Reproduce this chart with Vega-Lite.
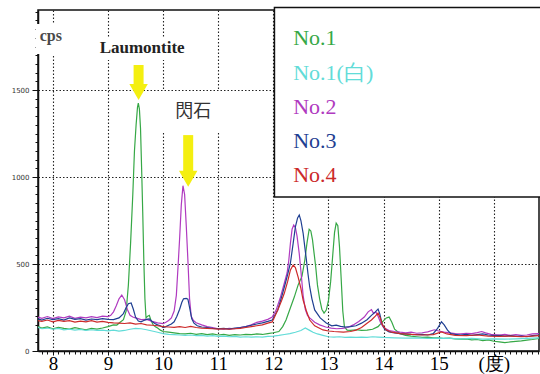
{
  "$schema": "https://vega.github.io/schema/vega-lite/v6.json",
  "width": 501,
  "height": 341,
  "autosize": "none",
  "padding": {"left": 38, "top": 10, "right": 1, "bottom": 23},
  "background": "white",
  "config": {
    "view": {"stroke": "#111", "strokeWidth": 1.5},
    "axis": {"domainColor": "#111", "domainWidth": 1.5, "tickColor": "#111"}
  },
  "datasets": {
    "spectra": [
      {"series": "No.1", "deg": 7.73, "cps": 140}, {"series": "No.1", "deg": 7.8, "cps": 132}, {"series": "No.1", "deg": 7.9, "cps": 138}, {"series": "No.1", "deg": 8.0, "cps": 128}, {"series": "No.1", "deg": 8.1, "cps": 136}, {"series": "No.1", "deg": 8.2, "cps": 130}, {"series": "No.1", "deg": 8.3, "cps": 126}, {"series": "No.1", "deg": 8.4, "cps": 134}, {"series": "No.1", "deg": 8.5, "cps": 128}, {"series": "No.1", "deg": 8.6, "cps": 122}, {"series": "No.1", "deg": 8.7, "cps": 130}, {"series": "No.1", "deg": 8.8, "cps": 126}, {"series": "No.1", "deg": 8.9, "cps": 132}, {"series": "No.1", "deg": 9.0, "cps": 140}, {"series": "No.1", "deg": 9.1, "cps": 150}, {"series": "No.1", "deg": 9.16, "cps": 149}, {"series": "No.1", "deg": 9.22, "cps": 165}, {"series": "No.1", "deg": 9.28, "cps": 180}, {"series": "No.1", "deg": 9.33, "cps": 230}, {"series": "No.1", "deg": 9.37, "cps": 380}, {"series": "No.1", "deg": 9.41, "cps": 620}, {"series": "No.1", "deg": 9.45, "cps": 900}, {"series": "No.1", "deg": 9.48, "cps": 1150}, {"series": "No.1", "deg": 9.51, "cps": 1300}, {"series": "No.1", "deg": 9.535, "cps": 1400}, {"series": "No.1", "deg": 9.55, "cps": 1425}, {"series": "No.1", "deg": 9.57, "cps": 1390}, {"series": "No.1", "deg": 9.59, "cps": 1280}, {"series": "No.1", "deg": 9.61, "cps": 1050}, {"series": "No.1", "deg": 9.63, "cps": 800}, {"series": "No.1", "deg": 9.65, "cps": 520}, {"series": "No.1", "deg": 9.67, "cps": 300}, {"series": "No.1", "deg": 9.69, "cps": 190}, {"series": "No.1", "deg": 9.72, "cps": 200}, {"series": "No.1", "deg": 9.75, "cps": 205}, {"series": "No.1", "deg": 9.78, "cps": 175}, {"series": "No.1", "deg": 9.82, "cps": 150}, {"series": "No.1", "deg": 9.86, "cps": 140}, {"series": "No.1", "deg": 9.9, "cps": 132}, {"series": "No.1", "deg": 9.95, "cps": 120}, {"series": "No.1", "deg": 10.0, "cps": 112}, {"series": "No.1", "deg": 10.1, "cps": 108}, {"series": "No.1", "deg": 10.2, "cps": 104}, {"series": "No.1", "deg": 10.3, "cps": 100}, {"series": "No.1", "deg": 10.4, "cps": 98}, {"series": "No.1", "deg": 10.5, "cps": 102}, {"series": "No.1", "deg": 10.6, "cps": 96}, {"series": "No.1", "deg": 10.7, "cps": 100}, {"series": "No.1", "deg": 10.8, "cps": 94}, {"series": "No.1", "deg": 10.9, "cps": 98}, {"series": "No.1", "deg": 11.0, "cps": 92}, {"series": "No.1", "deg": 11.1, "cps": 96}, {"series": "No.1", "deg": 11.2, "cps": 90}, {"series": "No.1", "deg": 11.3, "cps": 94}, {"series": "No.1", "deg": 11.4, "cps": 92}, {"series": "No.1", "deg": 11.5, "cps": 96}, {"series": "No.1", "deg": 11.6, "cps": 94}, {"series": "No.1", "deg": 11.7, "cps": 98}, {"series": "No.1", "deg": 11.8, "cps": 95}, {"series": "No.1", "deg": 11.9, "cps": 100}, {"series": "No.1", "deg": 12.0, "cps": 105}, {"series": "No.1", "deg": 12.1, "cps": 112}, {"series": "No.1", "deg": 12.17, "cps": 140}, {"series": "No.1", "deg": 12.23, "cps": 178}, {"series": "No.1", "deg": 12.3, "cps": 240}, {"series": "No.1", "deg": 12.38, "cps": 310}, {"series": "No.1", "deg": 12.45, "cps": 380}, {"series": "No.1", "deg": 12.52, "cps": 430}, {"series": "No.1", "deg": 12.57, "cps": 520}, {"series": "No.1", "deg": 12.61, "cps": 620}, {"series": "No.1", "deg": 12.65, "cps": 700}, {"series": "No.1", "deg": 12.68, "cps": 690}, {"series": "No.1", "deg": 12.71, "cps": 640}, {"series": "No.1", "deg": 12.74, "cps": 560}, {"series": "No.1", "deg": 12.77, "cps": 480}, {"series": "No.1", "deg": 12.8, "cps": 380}, {"series": "No.1", "deg": 12.84, "cps": 300}, {"series": "No.1", "deg": 12.88, "cps": 240}, {"series": "No.1", "deg": 12.92, "cps": 218}, {"series": "No.1", "deg": 12.96, "cps": 235}, {"series": "No.1", "deg": 13.0, "cps": 290}, {"series": "No.1", "deg": 13.04, "cps": 400}, {"series": "No.1", "deg": 13.08, "cps": 560}, {"series": "No.1", "deg": 13.11, "cps": 680}, {"series": "No.1", "deg": 13.14, "cps": 735}, {"series": "No.1", "deg": 13.17, "cps": 720}, {"series": "No.1", "deg": 13.2, "cps": 600}, {"series": "No.1", "deg": 13.23, "cps": 420}, {"series": "No.1", "deg": 13.26, "cps": 230}, {"series": "No.1", "deg": 13.29, "cps": 138}, {"series": "No.1", "deg": 13.34, "cps": 120}, {"series": "No.1", "deg": 13.4, "cps": 118}, {"series": "No.1", "deg": 13.5, "cps": 122}, {"series": "No.1", "deg": 13.6, "cps": 118}, {"series": "No.1", "deg": 13.7, "cps": 120}, {"series": "No.1", "deg": 13.8, "cps": 125}, {"series": "No.1", "deg": 13.9, "cps": 140}, {"series": "No.1", "deg": 13.97, "cps": 165}, {"series": "No.1", "deg": 14.05, "cps": 190}, {"series": "No.1", "deg": 14.1, "cps": 195}, {"series": "No.1", "deg": 14.15, "cps": 165}, {"series": "No.1", "deg": 14.2, "cps": 125}, {"series": "No.1", "deg": 14.3, "cps": 100}, {"series": "No.1", "deg": 14.4, "cps": 90}, {"series": "No.1", "deg": 14.5, "cps": 85}, {"series": "No.1", "deg": 14.6, "cps": 82}, {"series": "No.1", "deg": 14.7, "cps": 78}, {"series": "No.1", "deg": 14.8, "cps": 80}, {"series": "No.1", "deg": 14.9, "cps": 75}, {"series": "No.1", "deg": 15.0, "cps": 76}, {"series": "No.1", "deg": 15.1, "cps": 72}, {"series": "No.1", "deg": 15.2, "cps": 74}, {"series": "No.1", "deg": 15.3, "cps": 70}, {"series": "No.1", "deg": 15.4, "cps": 68}, {"series": "No.1", "deg": 15.5, "cps": 70}, {"series": "No.1", "deg": 15.6, "cps": 64}, {"series": "No.1", "deg": 15.7, "cps": 66}, {"series": "No.1", "deg": 15.8, "cps": 60}, {"series": "No.1", "deg": 15.9, "cps": 64}, {"series": "No.1", "deg": 16.0, "cps": 56}, {"series": "No.1", "deg": 16.1, "cps": 52}, {"series": "No.1", "deg": 16.2, "cps": 48}, {"series": "No.1", "deg": 16.3, "cps": 52}, {"series": "No.1", "deg": 16.4, "cps": 55}, {"series": "No.1", "deg": 16.5, "cps": 58}, {"series": "No.1", "deg": 16.6, "cps": 62}, {"series": "No.1", "deg": 16.7, "cps": 66}, {"series": "No.1", "deg": 16.82, "cps": 72},

      {"series": "No.1(白)", "deg": 7.73, "cps": 135}, {"series": "No.1(白)", "deg": 7.8, "cps": 128}, {"series": "No.1(白)", "deg": 7.9, "cps": 132}, {"series": "No.1(白)", "deg": 8.0, "cps": 125}, {"series": "No.1(白)", "deg": 8.1, "cps": 130}, {"series": "No.1(白)", "deg": 8.2, "cps": 122}, {"series": "No.1(白)", "deg": 8.3, "cps": 126}, {"series": "No.1(白)", "deg": 8.4, "cps": 120}, {"series": "No.1(白)", "deg": 8.5, "cps": 124}, {"series": "No.1(白)", "deg": 8.6, "cps": 118}, {"series": "No.1(白)", "deg": 8.7, "cps": 122}, {"series": "No.1(白)", "deg": 8.8, "cps": 118}, {"series": "No.1(白)", "deg": 8.9, "cps": 120}, {"series": "No.1(白)", "deg": 9.0, "cps": 116}, {"series": "No.1(白)", "deg": 9.1, "cps": 120}, {"series": "No.1(白)", "deg": 9.2, "cps": 114}, {"series": "No.1(白)", "deg": 9.3, "cps": 118}, {"series": "No.1(白)", "deg": 9.4, "cps": 125}, {"series": "No.1(白)", "deg": 9.5, "cps": 130}, {"series": "No.1(白)", "deg": 9.6, "cps": 128}, {"series": "No.1(白)", "deg": 9.7, "cps": 122}, {"series": "No.1(白)", "deg": 9.8, "cps": 115}, {"series": "No.1(白)", "deg": 9.9, "cps": 108}, {"series": "No.1(白)", "deg": 10.0, "cps": 100}, {"series": "No.1(白)", "deg": 10.1, "cps": 96}, {"series": "No.1(白)", "deg": 10.2, "cps": 94}, {"series": "No.1(白)", "deg": 10.3, "cps": 92}, {"series": "No.1(白)", "deg": 10.4, "cps": 90}, {"series": "No.1(白)", "deg": 10.5, "cps": 92}, {"series": "No.1(白)", "deg": 10.6, "cps": 88}, {"series": "No.1(白)", "deg": 10.7, "cps": 90}, {"series": "No.1(白)", "deg": 10.8, "cps": 86}, {"series": "No.1(白)", "deg": 10.9, "cps": 88}, {"series": "No.1(白)", "deg": 11.0, "cps": 84}, {"series": "No.1(白)", "deg": 11.1, "cps": 86}, {"series": "No.1(白)", "deg": 11.2, "cps": 82}, {"series": "No.1(白)", "deg": 11.3, "cps": 84}, {"series": "No.1(白)", "deg": 11.4, "cps": 80}, {"series": "No.1(白)", "deg": 11.5, "cps": 82}, {"series": "No.1(白)", "deg": 11.6, "cps": 80}, {"series": "No.1(白)", "deg": 11.7, "cps": 82}, {"series": "No.1(白)", "deg": 11.8, "cps": 80}, {"series": "No.1(白)", "deg": 11.9, "cps": 84}, {"series": "No.1(白)", "deg": 12.0, "cps": 86}, {"series": "No.1(白)", "deg": 12.1, "cps": 90}, {"series": "No.1(白)", "deg": 12.2, "cps": 95}, {"series": "No.1(白)", "deg": 12.3, "cps": 100}, {"series": "No.1(白)", "deg": 12.4, "cps": 108}, {"series": "No.1(白)", "deg": 12.5, "cps": 118}, {"series": "No.1(白)", "deg": 12.58, "cps": 132}, {"series": "No.1(白)", "deg": 12.65, "cps": 120}, {"series": "No.1(白)", "deg": 12.72, "cps": 108}, {"series": "No.1(白)", "deg": 12.8, "cps": 98}, {"series": "No.1(白)", "deg": 12.9, "cps": 90}, {"series": "No.1(白)", "deg": 13.0, "cps": 82}, {"series": "No.1(白)", "deg": 13.1, "cps": 80}, {"series": "No.1(白)", "deg": 13.2, "cps": 82}, {"series": "No.1(白)", "deg": 13.3, "cps": 78}, {"series": "No.1(白)", "deg": 13.4, "cps": 80}, {"series": "No.1(白)", "deg": 13.5, "cps": 78}, {"series": "No.1(白)", "deg": 13.6, "cps": 80}, {"series": "No.1(白)", "deg": 13.7, "cps": 78}, {"series": "No.1(白)", "deg": 13.8, "cps": 82}, {"series": "No.1(白)", "deg": 13.9, "cps": 80}, {"series": "No.1(白)", "deg": 14.0, "cps": 78}, {"series": "No.1(白)", "deg": 14.2, "cps": 76}, {"series": "No.1(白)", "deg": 14.4, "cps": 74}, {"series": "No.1(白)", "deg": 14.6, "cps": 76}, {"series": "No.1(白)", "deg": 14.8, "cps": 72}, {"series": "No.1(白)", "deg": 15.0, "cps": 74}, {"series": "No.1(白)", "deg": 15.2, "cps": 72}, {"series": "No.1(白)", "deg": 15.4, "cps": 70}, {"series": "No.1(白)", "deg": 15.6, "cps": 72}, {"series": "No.1(白)", "deg": 15.8, "cps": 68}, {"series": "No.1(白)", "deg": 16.0, "cps": 70}, {"series": "No.1(白)", "deg": 16.2, "cps": 68}, {"series": "No.1(白)", "deg": 16.4, "cps": 70}, {"series": "No.1(白)", "deg": 16.6, "cps": 72}, {"series": "No.1(白)", "deg": 16.82, "cps": 75},

      {"series": "No.2", "deg": 7.73, "cps": 195}, {"series": "No.2", "deg": 7.8, "cps": 188}, {"series": "No.2", "deg": 7.9, "cps": 198}, {"series": "No.2", "deg": 8.0, "cps": 186}, {"series": "No.2", "deg": 8.1, "cps": 196}, {"series": "No.2", "deg": 8.2, "cps": 190}, {"series": "No.2", "deg": 8.3, "cps": 200}, {"series": "No.2", "deg": 8.4, "cps": 188}, {"series": "No.2", "deg": 8.5, "cps": 195}, {"series": "No.2", "deg": 8.6, "cps": 190}, {"series": "No.2", "deg": 8.7, "cps": 198}, {"series": "No.2", "deg": 8.8, "cps": 192}, {"series": "No.2", "deg": 8.9, "cps": 200}, {"series": "No.2", "deg": 9.0, "cps": 198}, {"series": "No.2", "deg": 9.05, "cps": 205}, {"series": "No.2", "deg": 9.1, "cps": 225}, {"series": "No.2", "deg": 9.15, "cps": 260}, {"series": "No.2", "deg": 9.2, "cps": 300}, {"series": "No.2", "deg": 9.25, "cps": 322}, {"series": "No.2", "deg": 9.3, "cps": 295}, {"series": "No.2", "deg": 9.35, "cps": 240}, {"series": "No.2", "deg": 9.4, "cps": 205}, {"series": "No.2", "deg": 9.45, "cps": 195}, {"series": "No.2", "deg": 9.5, "cps": 190}, {"series": "No.2", "deg": 9.6, "cps": 180}, {"series": "No.2", "deg": 9.7, "cps": 182}, {"series": "No.2", "deg": 9.8, "cps": 170}, {"series": "No.2", "deg": 9.9, "cps": 162}, {"series": "No.2", "deg": 10.0, "cps": 158}, {"series": "No.2", "deg": 10.05, "cps": 165}, {"series": "No.2", "deg": 10.1, "cps": 175}, {"series": "No.2", "deg": 10.15, "cps": 190}, {"series": "No.2", "deg": 10.2, "cps": 230}, {"series": "No.2", "deg": 10.24, "cps": 320}, {"series": "No.2", "deg": 10.27, "cps": 480}, {"series": "No.2", "deg": 10.3, "cps": 650}, {"series": "No.2", "deg": 10.33, "cps": 840}, {"series": "No.2", "deg": 10.36, "cps": 950}, {"series": "No.2", "deg": 10.39, "cps": 900}, {"series": "No.2", "deg": 10.42, "cps": 720}, {"series": "No.2", "deg": 10.45, "cps": 520}, {"series": "No.2", "deg": 10.48, "cps": 300}, {"series": "No.2", "deg": 10.51, "cps": 200}, {"series": "No.2", "deg": 10.55, "cps": 175}, {"series": "No.2", "deg": 10.6, "cps": 162}, {"series": "No.2", "deg": 10.7, "cps": 150}, {"series": "No.2", "deg": 10.8, "cps": 140}, {"series": "No.2", "deg": 10.9, "cps": 135}, {"series": "No.2", "deg": 11.0, "cps": 128}, {"series": "No.2", "deg": 11.1, "cps": 126}, {"series": "No.2", "deg": 11.2, "cps": 130}, {"series": "No.2", "deg": 11.3, "cps": 128}, {"series": "No.2", "deg": 11.4, "cps": 135}, {"series": "No.2", "deg": 11.5, "cps": 140}, {"series": "No.2", "deg": 11.6, "cps": 150}, {"series": "No.2", "deg": 11.7, "cps": 165}, {"series": "No.2", "deg": 11.8, "cps": 172}, {"series": "No.2", "deg": 11.9, "cps": 182}, {"series": "No.2", "deg": 11.98, "cps": 195}, {"series": "No.2", "deg": 12.05, "cps": 235}, {"series": "No.2", "deg": 12.12, "cps": 300}, {"series": "No.2", "deg": 12.2, "cps": 391}, {"series": "No.2", "deg": 12.25, "cps": 450}, {"series": "No.2", "deg": 12.28, "cps": 520}, {"series": "No.2", "deg": 12.31, "cps": 620}, {"series": "No.2", "deg": 12.34, "cps": 700}, {"series": "No.2", "deg": 12.37, "cps": 724}, {"series": "No.2", "deg": 12.4, "cps": 710}, {"series": "No.2", "deg": 12.43, "cps": 660}, {"series": "No.2", "deg": 12.47, "cps": 560}, {"series": "No.2", "deg": 12.5, "cps": 460}, {"series": "No.2", "deg": 12.54, "cps": 320}, {"series": "No.2", "deg": 12.58, "cps": 240}, {"series": "No.2", "deg": 12.62, "cps": 205}, {"series": "No.2", "deg": 12.66, "cps": 190}, {"series": "No.2", "deg": 12.75, "cps": 165}, {"series": "No.2", "deg": 12.84, "cps": 150}, {"series": "No.2", "deg": 12.95, "cps": 138}, {"series": "No.2", "deg": 13.05, "cps": 132}, {"series": "No.2", "deg": 13.15, "cps": 128}, {"series": "No.2", "deg": 13.25, "cps": 130}, {"series": "No.2", "deg": 13.35, "cps": 135}, {"series": "No.2", "deg": 13.45, "cps": 150}, {"series": "No.2", "deg": 13.55, "cps": 170}, {"series": "No.2", "deg": 13.65, "cps": 195}, {"series": "No.2", "deg": 13.72, "cps": 225}, {"series": "No.2", "deg": 13.78, "cps": 238}, {"series": "No.2", "deg": 13.82, "cps": 215}, {"series": "No.2", "deg": 13.86, "cps": 225}, {"series": "No.2", "deg": 13.9, "cps": 200}, {"series": "No.2", "deg": 13.95, "cps": 160}, {"series": "No.2", "deg": 14.0, "cps": 135}, {"series": "No.2", "deg": 14.1, "cps": 118}, {"series": "No.2", "deg": 14.2, "cps": 112}, {"series": "No.2", "deg": 14.3, "cps": 108}, {"series": "No.2", "deg": 14.4, "cps": 105}, {"series": "No.2", "deg": 14.5, "cps": 108}, {"series": "No.2", "deg": 14.6, "cps": 102}, {"series": "No.2", "deg": 14.7, "cps": 105}, {"series": "No.2", "deg": 14.8, "cps": 110}, {"series": "No.2", "deg": 14.92, "cps": 122}, {"series": "No.2", "deg": 15.0, "cps": 115}, {"series": "No.2", "deg": 15.1, "cps": 108}, {"series": "No.2", "deg": 15.2, "cps": 104}, {"series": "No.2", "deg": 15.3, "cps": 100}, {"series": "No.2", "deg": 15.4, "cps": 98}, {"series": "No.2", "deg": 15.5, "cps": 102}, {"series": "No.2", "deg": 15.6, "cps": 100}, {"series": "No.2", "deg": 15.7, "cps": 106}, {"series": "No.2", "deg": 15.78, "cps": 112}, {"series": "No.2", "deg": 15.85, "cps": 104}, {"series": "No.2", "deg": 15.95, "cps": 96}, {"series": "No.2", "deg": 16.1, "cps": 92}, {"series": "No.2", "deg": 16.2, "cps": 95}, {"series": "No.2", "deg": 16.3, "cps": 90}, {"series": "No.2", "deg": 16.4, "cps": 94}, {"series": "No.2", "deg": 16.5, "cps": 90}, {"series": "No.2", "deg": 16.6, "cps": 92}, {"series": "No.2", "deg": 16.7, "cps": 98}, {"series": "No.2", "deg": 16.82, "cps": 100},

      {"series": "No.3", "deg": 7.73, "cps": 185}, {"series": "No.3", "deg": 7.8, "cps": 178}, {"series": "No.3", "deg": 7.9, "cps": 188}, {"series": "No.3", "deg": 8.0, "cps": 180}, {"series": "No.3", "deg": 8.1, "cps": 186}, {"series": "No.3", "deg": 8.2, "cps": 178}, {"series": "No.3", "deg": 8.3, "cps": 190}, {"series": "No.3", "deg": 8.4, "cps": 182}, {"series": "No.3", "deg": 8.5, "cps": 186}, {"series": "No.3", "deg": 8.6, "cps": 178}, {"series": "No.3", "deg": 8.7, "cps": 184}, {"series": "No.3", "deg": 8.8, "cps": 180}, {"series": "No.3", "deg": 8.9, "cps": 186}, {"series": "No.3", "deg": 9.0, "cps": 182}, {"series": "No.3", "deg": 9.1, "cps": 180}, {"series": "No.3", "deg": 9.2, "cps": 190}, {"series": "No.3", "deg": 9.28, "cps": 215}, {"series": "No.3", "deg": 9.33, "cps": 250}, {"series": "No.3", "deg": 9.37, "cps": 272}, {"series": "No.3", "deg": 9.42, "cps": 276}, {"series": "No.3", "deg": 9.46, "cps": 240}, {"series": "No.3", "deg": 9.5, "cps": 195}, {"series": "No.3", "deg": 9.55, "cps": 172}, {"series": "No.3", "deg": 9.6, "cps": 168}, {"series": "No.3", "deg": 9.65, "cps": 175}, {"series": "No.3", "deg": 9.7, "cps": 182}, {"series": "No.3", "deg": 9.75, "cps": 185}, {"series": "No.3", "deg": 9.8, "cps": 170}, {"series": "No.3", "deg": 9.85, "cps": 158}, {"series": "No.3", "deg": 9.9, "cps": 150}, {"series": "No.3", "deg": 9.95, "cps": 145}, {"series": "No.3", "deg": 10.0, "cps": 135}, {"series": "No.3", "deg": 10.05, "cps": 140}, {"series": "No.3", "deg": 10.1, "cps": 148}, {"series": "No.3", "deg": 10.15, "cps": 155}, {"series": "No.3", "deg": 10.2, "cps": 168}, {"series": "No.3", "deg": 10.25, "cps": 200}, {"series": "No.3", "deg": 10.3, "cps": 240}, {"series": "No.3", "deg": 10.34, "cps": 280}, {"series": "No.3", "deg": 10.37, "cps": 300}, {"series": "No.3", "deg": 10.42, "cps": 302}, {"series": "No.3", "deg": 10.45, "cps": 298}, {"series": "No.3", "deg": 10.48, "cps": 250}, {"series": "No.3", "deg": 10.52, "cps": 185}, {"series": "No.3", "deg": 10.56, "cps": 160}, {"series": "No.3", "deg": 10.62, "cps": 145}, {"series": "No.3", "deg": 10.7, "cps": 138}, {"series": "No.3", "deg": 10.8, "cps": 135}, {"series": "No.3", "deg": 10.9, "cps": 130}, {"series": "No.3", "deg": 11.0, "cps": 128}, {"series": "No.3", "deg": 11.1, "cps": 130}, {"series": "No.3", "deg": 11.2, "cps": 126}, {"series": "No.3", "deg": 11.3, "cps": 132}, {"series": "No.3", "deg": 11.4, "cps": 135}, {"series": "No.3", "deg": 11.5, "cps": 140}, {"series": "No.3", "deg": 11.6, "cps": 148}, {"series": "No.3", "deg": 11.7, "cps": 155}, {"series": "No.3", "deg": 11.8, "cps": 162}, {"series": "No.3", "deg": 11.9, "cps": 170}, {"series": "No.3", "deg": 11.98, "cps": 178}, {"series": "No.3", "deg": 12.08, "cps": 236}, {"series": "No.3", "deg": 12.14, "cps": 300}, {"series": "No.3", "deg": 12.2, "cps": 368}, {"series": "No.3", "deg": 12.26, "cps": 440}, {"series": "No.3", "deg": 12.31, "cps": 506}, {"series": "No.3", "deg": 12.36, "cps": 620}, {"series": "No.3", "deg": 12.4, "cps": 714}, {"series": "No.3", "deg": 12.44, "cps": 765}, {"series": "No.3", "deg": 12.47, "cps": 782}, {"series": "No.3", "deg": 12.5, "cps": 750}, {"series": "No.3", "deg": 12.54, "cps": 678}, {"series": "No.3", "deg": 12.57, "cps": 600}, {"series": "No.3", "deg": 12.6, "cps": 523}, {"series": "No.3", "deg": 12.63, "cps": 440}, {"series": "No.3", "deg": 12.66, "cps": 368}, {"series": "No.3", "deg": 12.7, "cps": 300}, {"series": "No.3", "deg": 12.75, "cps": 236}, {"series": "No.3", "deg": 12.85, "cps": 190}, {"series": "No.3", "deg": 12.96, "cps": 161}, {"series": "No.3", "deg": 13.06, "cps": 145}, {"series": "No.3", "deg": 13.14, "cps": 149}, {"series": "No.3", "deg": 13.22, "cps": 142}, {"series": "No.3", "deg": 13.3, "cps": 138}, {"series": "No.3", "deg": 13.4, "cps": 140}, {"series": "No.3", "deg": 13.5, "cps": 145}, {"series": "No.3", "deg": 13.6, "cps": 160}, {"series": "No.3", "deg": 13.7, "cps": 180}, {"series": "No.3", "deg": 13.78, "cps": 205}, {"series": "No.3", "deg": 13.85, "cps": 225}, {"series": "No.3", "deg": 13.9, "cps": 241}, {"series": "No.3", "deg": 13.93, "cps": 215}, {"series": "No.3", "deg": 13.97, "cps": 160}, {"series": "No.3", "deg": 14.02, "cps": 125}, {"series": "No.3", "deg": 14.1, "cps": 110}, {"series": "No.3", "deg": 14.2, "cps": 104}, {"series": "No.3", "deg": 14.3, "cps": 100}, {"series": "No.3", "deg": 14.4, "cps": 98}, {"series": "No.3", "deg": 14.5, "cps": 95}, {"series": "No.3", "deg": 14.6, "cps": 94}, {"series": "No.3", "deg": 14.7, "cps": 96}, {"series": "No.3", "deg": 14.8, "cps": 92}, {"series": "No.3", "deg": 14.9, "cps": 100}, {"series": "No.3", "deg": 14.98, "cps": 130}, {"series": "No.3", "deg": 15.05, "cps": 168}, {"series": "No.3", "deg": 15.1, "cps": 150}, {"series": "No.3", "deg": 15.16, "cps": 120}, {"series": "No.3", "deg": 15.22, "cps": 100}, {"series": "No.3", "deg": 15.3, "cps": 95}, {"series": "No.3", "deg": 15.4, "cps": 92}, {"series": "No.3", "deg": 15.5, "cps": 96}, {"series": "No.3", "deg": 15.6, "cps": 90}, {"series": "No.3", "deg": 15.7, "cps": 94}, {"series": "No.3", "deg": 15.8, "cps": 98}, {"series": "No.3", "deg": 15.9, "cps": 92}, {"series": "No.3", "deg": 16.0, "cps": 88}, {"series": "No.3", "deg": 16.1, "cps": 90}, {"series": "No.3", "deg": 16.2, "cps": 86}, {"series": "No.3", "deg": 16.3, "cps": 88}, {"series": "No.3", "deg": 16.4, "cps": 84}, {"series": "No.3", "deg": 16.5, "cps": 86}, {"series": "No.3", "deg": 16.6, "cps": 82}, {"series": "No.3", "deg": 16.7, "cps": 88}, {"series": "No.3", "deg": 16.82, "cps": 92},

      {"series": "No.4", "deg": 7.73, "cps": 175}, {"series": "No.4", "deg": 7.8, "cps": 170}, {"series": "No.4", "deg": 7.9, "cps": 178}, {"series": "No.4", "deg": 8.0, "cps": 168}, {"series": "No.4", "deg": 8.1, "cps": 176}, {"series": "No.4", "deg": 8.2, "cps": 170}, {"series": "No.4", "deg": 8.3, "cps": 174}, {"series": "No.4", "deg": 8.4, "cps": 166}, {"series": "No.4", "deg": 8.5, "cps": 172}, {"series": "No.4", "deg": 8.6, "cps": 168}, {"series": "No.4", "deg": 8.7, "cps": 174}, {"series": "No.4", "deg": 8.8, "cps": 166}, {"series": "No.4", "deg": 8.9, "cps": 170}, {"series": "No.4", "deg": 9.0, "cps": 165}, {"series": "No.4", "deg": 9.1, "cps": 162}, {"series": "No.4", "deg": 9.2, "cps": 160}, {"series": "No.4", "deg": 9.3, "cps": 158}, {"series": "No.4", "deg": 9.4, "cps": 162}, {"series": "No.4", "deg": 9.5, "cps": 155}, {"series": "No.4", "deg": 9.6, "cps": 158}, {"series": "No.4", "deg": 9.7, "cps": 150}, {"series": "No.4", "deg": 9.8, "cps": 148}, {"series": "No.4", "deg": 9.9, "cps": 145}, {"series": "No.4", "deg": 10.0, "cps": 140}, {"series": "No.4", "deg": 10.1, "cps": 138}, {"series": "No.4", "deg": 10.2, "cps": 136}, {"series": "No.4", "deg": 10.3, "cps": 140}, {"series": "No.4", "deg": 10.4, "cps": 135}, {"series": "No.4", "deg": 10.5, "cps": 142}, {"series": "No.4", "deg": 10.6, "cps": 135}, {"series": "No.4", "deg": 10.7, "cps": 132}, {"series": "No.4", "deg": 10.8, "cps": 130}, {"series": "No.4", "deg": 10.9, "cps": 128}, {"series": "No.4", "deg": 11.0, "cps": 126}, {"series": "No.4", "deg": 11.1, "cps": 128}, {"series": "No.4", "deg": 11.2, "cps": 125}, {"series": "No.4", "deg": 11.3, "cps": 128}, {"series": "No.4", "deg": 11.4, "cps": 130}, {"series": "No.4", "deg": 11.5, "cps": 135}, {"series": "No.4", "deg": 11.6, "cps": 140}, {"series": "No.4", "deg": 11.7, "cps": 145}, {"series": "No.4", "deg": 11.8, "cps": 150}, {"series": "No.4", "deg": 11.9, "cps": 160}, {"series": "No.4", "deg": 11.98, "cps": 167}, {"series": "No.4", "deg": 12.08, "cps": 236}, {"series": "No.4", "deg": 12.15, "cps": 290}, {"series": "No.4", "deg": 12.2, "cps": 333}, {"series": "No.4", "deg": 12.26, "cps": 400}, {"series": "No.4", "deg": 12.31, "cps": 466}, {"series": "No.4", "deg": 12.36, "cps": 494}, {"series": "No.4", "deg": 12.4, "cps": 480}, {"series": "No.4", "deg": 12.45, "cps": 425}, {"series": "No.4", "deg": 12.5, "cps": 360}, {"series": "No.4", "deg": 12.54, "cps": 293}, {"series": "No.4", "deg": 12.6, "cps": 230}, {"series": "No.4", "deg": 12.66, "cps": 178}, {"series": "No.4", "deg": 12.75, "cps": 145}, {"series": "No.4", "deg": 12.9, "cps": 121}, {"series": "No.4", "deg": 13.0, "cps": 115}, {"series": "No.4", "deg": 13.1, "cps": 112}, {"series": "No.4", "deg": 13.27, "cps": 109}, {"series": "No.4", "deg": 13.4, "cps": 112}, {"series": "No.4", "deg": 13.5, "cps": 120}, {"series": "No.4", "deg": 13.6, "cps": 135}, {"series": "No.4", "deg": 13.7, "cps": 160}, {"series": "No.4", "deg": 13.78, "cps": 178}, {"series": "No.4", "deg": 13.85, "cps": 200}, {"series": "No.4", "deg": 13.9, "cps": 218}, {"series": "No.4", "deg": 13.94, "cps": 190}, {"series": "No.4", "deg": 13.98, "cps": 150}, {"series": "No.4", "deg": 14.05, "cps": 120}, {"series": "No.4", "deg": 14.15, "cps": 108}, {"series": "No.4", "deg": 14.3, "cps": 100}, {"series": "No.4", "deg": 14.5, "cps": 96}, {"series": "No.4", "deg": 14.7, "cps": 92}, {"series": "No.4", "deg": 14.9, "cps": 94}, {"series": "No.4", "deg": 15.05, "cps": 110}, {"series": "No.4", "deg": 15.15, "cps": 98}, {"series": "No.4", "deg": 15.3, "cps": 90}, {"series": "No.4", "deg": 15.5, "cps": 88}, {"series": "No.4", "deg": 15.7, "cps": 92}, {"series": "No.4", "deg": 15.9, "cps": 86}, {"series": "No.4", "deg": 16.1, "cps": 84}, {"series": "No.4", "deg": 16.3, "cps": 86}, {"series": "No.4", "deg": 16.5, "cps": 82}, {"series": "No.4", "deg": 16.7, "cps": 86}, {"series": "No.4", "deg": 16.82, "cps": 88}
    ],
    "legendbox": [{"deg": 12.02, "deg2": 16.9, "cps": 885, "cps2": 1975}],
    "labelboxes": [
      {"name": "cps", "deg": 7.69, "deg2": 8.38, "cps": 1707, "cps2": 1879},
      {"name": "Laumontite", "deg": 8.71, "deg2": 10.5, "cps": 1672, "cps2": 1799},
      {"name": "閃石", "deg": 9.89, "deg2": 11.31, "cps": 1253, "cps2": 1494}
    ],
    "arrowshafts": [
      {"mineral": "Laumontite", "deg": 9.555, "cps": 1644, "cps2": 1505},
      {"mineral": "閃石", "deg": 10.455, "cps": 1241, "cps2": 1010}
    ],
    "arrowheads": [
      {"mineral": "Laumontite", "deg": 9.555, "cps": 1489},
      {"mineral": "閃石", "deg": 10.455, "cps": 990}
    ],
    "legendtext": [
      {"series": "No.1", "deg": 12.36, "cps": 1759},
      {"series": "No.1(白)", "deg": 12.36, "cps": 1557},
      {"series": "No.2", "deg": 12.36, "cps": 1362},
      {"series": "No.3", "deg": 12.36, "cps": 1167},
      {"series": "No.4", "deg": 12.36, "cps": 971}
    ]
  },
  "layer": [
    {
      "data": {"name": "legendbox"},
      "mark": {"type": "rect", "fill": "white", "stroke": "#111", "strokeWidth": 1.5},
      "encoding": {
        "x": {"field": "deg", "type": "quantitative", "title": null,
          "scale": {"domain": [7.73, 16.82], "nice": false, "zero": false},
          "axis": {
            "values": [7.8, 7.9, 8, 8.1, 8.2, 8.3, 8.4, 8.5, 8.6, 8.7, 8.8, 8.9, 9, 9.1, 9.2, 9.3, 9.4, 9.5, 9.6, 9.7, 9.8, 9.9, 10, 10.1, 10.2, 10.3, 10.4, 10.5, 10.6, 10.7, 10.8, 10.9, 11, 11.1, 11.2, 11.3, 11.4, 11.5, 11.6, 11.7, 11.8, 11.9, 12, 12.1, 12.2, 12.3, 12.4, 12.5, 12.6, 12.7, 12.8, 12.9, 13, 13.1, 13.2, 13.3, 13.4, 13.5, 13.6, 13.7, 13.8, 13.9, 14, 14.1, 14.2, 14.3, 14.4, 14.5, 14.6, 14.7, 14.8, 14.9, 15, 15.1, 15.2, 15.3, 15.4, 15.5, 15.6, 15.7, 15.8, 15.9, 16, 16.1, 16.2, 16.3, 16.4, 16.5, 16.6, 16.7, 16.8],
            "tickCount": 500,
            "labelExpr": "datum.value % 1 !== 0 ? '' : (datum.value === 16 ? '(度)' : format(datum.value, 'd'))",
            "labelOverlap": false, "labelFlush": false, "labelBound": false,
            "labelFont": "Liberation Serif", "labelFontSize": 19, "labelColor": "#000", "labelPadding": -1,
            "tickSize": {"condition": {"test": "datum.value % 1 === 0", "value": 4}, "value": 3},
            "grid": true,
            "gridOpacity": {"condition": {"test": "datum.value % 1 === 0", "value": 1}, "value": 0},
            "gridColor": "#222", "gridDash": [1.5, 2], "gridWidth": 1.1
          }
        },
        "x2": {"field": "deg2"},
        "y": {"field": "cps", "type": "quantitative", "title": null,
          "scale": {"domain": [0, 1960], "nice": false, "zero": false},
          "axis": {
            "values": [0, 50, 100, 150, 200, 250, 300, 350, 400, 450, 500, 550, 600, 650, 700, 750, 800, 850, 900, 950, 1000, 1050, 1100, 1150, 1200, 1250, 1300, 1350, 1400, 1450, 1500, 1550, 1600, 1650, 1700, 1750, 1800, 1850, 1900, 1950],
            "tickCount": 500,
            "labelExpr": "datum.value % 500 === 0 ? datum.label : ''",
            "format": "d",
            "labelOverlap": false, "labelFlush": false, "labelBound": false,
            "labelFont": "DejaVu Sans", "labelFontSize": 7, "labelColor": "#333", "labelPadding": 3,
            "tickSize": {"condition": {"test": "datum.value % 500 === 0", "value": 6}, "value": 3},
            "grid": true,
            "gridOpacity": {"condition": {"test": "datum.value % 500 === 0 && datum.value > 0", "value": 1}, "value": 0},
            "gridColor": "#222", "gridDash": [1.5, 2], "gridWidth": 1.1
          }
        },
        "y2": {"field": "cps2"}
      }
    },
    {
      "data": {"name": "labelboxes"},
      "mark": {"type": "rect", "fill": "white", "strokeWidth": 0},
      "encoding": {
        "x": {"field": "deg", "type": "quantitative", "title": null},
        "x2": {"field": "deg2"},
        "y": {"field": "cps", "type": "quantitative", "title": null},
        "y2": {"field": "cps2"}
      }
    },
    {
      "data": {"name": "spectra"},
      "mark": {"type": "line", "strokeWidth": 1.2, "interpolate": "linear"},
      "encoding": {
        "x": {"field": "deg", "type": "quantitative", "title": null},
        "y": {"field": "cps", "type": "quantitative", "title": null},
        "color": {"field": "series", "type": "nominal", "legend": null,
          "scale": {"domain": ["No.1", "No.1(白)", "No.2", "No.3", "No.4"],
                    "range": ["#36a846", "#62dcd8", "#b03ac0", "#1f3f92", "#cc2a2a"]}},
        "order": {"field": "deg", "type": "quantitative"}
      }
    },
    {
      "data": {"name": "arrowshafts"},
      "mark": {"type": "rule", "color": "#f4ef10", "strokeWidth": 10, "strokeCap": "butt"},
      "encoding": {
        "x": {"field": "deg", "type": "quantitative", "title": null},
        "y": {"field": "cps", "type": "quantitative", "title": null},
        "y2": {"field": "cps2"}
      }
    },
    {
      "data": {"name": "arrowheads"},
      "mark": {"type": "point", "shape": "triangle-down", "filled": true, "color": "#f4ef10", "opacity": 1, "size": 340},
      "encoding": {
        "x": {"field": "deg", "type": "quantitative", "title": null},
        "y": {"field": "cps", "type": "quantitative", "title": null}
      }
    },
    {
      "data": {"values": [{"label": "Laumontite", "deg": 9.62, "cps": 1713}]},
      "mark": {"type": "text", "font": "Liberation Serif", "fontWeight": "bold", "fontSize": 17, "color": "#222", "align": "center", "baseline": "alphabetic"},
      "encoding": {
        "x": {"field": "deg", "type": "quantitative", "title": null},
        "y": {"field": "cps", "type": "quantitative", "title": null},
        "text": {"field": "label"}
      }
    },
    {
      "data": {"values": [{"label": "閃石", "deg": 10.545, "cps": 1345}]},
      "mark": {"type": "text", "font": "Noto Sans CJK JP", "fontSize": 18, "color": "#333", "align": "center", "baseline": "alphabetic"},
      "encoding": {
        "x": {"field": "deg", "type": "quantitative", "title": null},
        "y": {"field": "cps", "type": "quantitative", "title": null},
        "text": {"field": "label"}
      }
    },
    {
      "data": {"values": [{"label": "cps", "deg": 7.76, "cps": 1782}]},
      "mark": {"type": "text", "font": "Liberation Serif", "fontWeight": "bold", "fontSize": 16, "color": "#4a4a4a", "align": "left", "baseline": "alphabetic"},
      "encoding": {
        "x": {"field": "deg", "type": "quantitative", "title": null},
        "y": {"field": "cps", "type": "quantitative", "title": null},
        "text": {"field": "label"}
      }
    },
    {
      "data": {"name": "legendtext"},
      "mark": {"type": "text", "font": "Liberation Serif", "fontSize": 22, "align": "left", "baseline": "alphabetic"},
      "encoding": {
        "x": {"field": "deg", "type": "quantitative", "title": null},
        "y": {"field": "cps", "type": "quantitative", "title": null},
        "text": {"field": "series"},
        "color": {"field": "series", "type": "nominal", "legend": null}
      }
    }
  ]
}
